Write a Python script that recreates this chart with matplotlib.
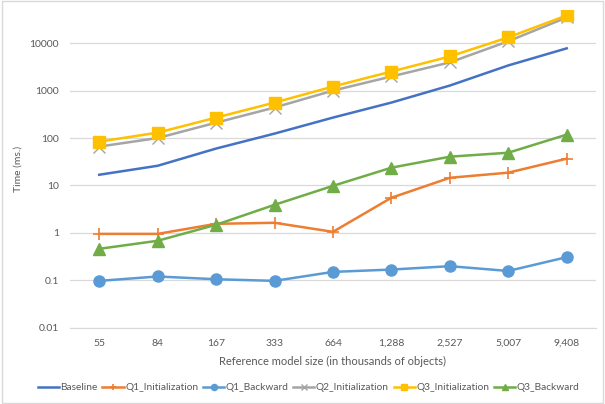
import matplotlib.pyplot as plt
import numpy as np

sizes = ["55", "84", "167", "333", "664", "1,288", "2,527", "5,007", "9,408"]
baseline = [16.8, 26, 60, 124, 270, 560, 1280, 3400, 7800]
q1_init = [0.95, 0.95, 1.55, 1.63, 1.05, 5.5, 14.5, 18.6, 36.7]
q1_back = [0.097, 0.12, 0.105, 0.097, 0.15, 0.168, 0.198, 0.157, 0.307]
q2_init = [66, 100, 211, 440, 1000, 1990, 3940, 11000, 35000]
q3_init = [84, 130, 270, 560, 1220, 2530, 5260, 13300, 38600]
q3_back = [0.46, 0.68, 1.48, 3.9, 9.8, 23.7, 40.4, 49, 118]

plt.rcParams['font.family'] = ['Lato', 'DejaVu Sans']
txt = '#595959'

fig = plt.figure(figsize=(6.05, 4.04), dpi=100)
ax = fig.add_axes([0.1157, 0.189, 0.985 - 0.1157, 0.975 - 0.189])
x = np.arange(len(sizes))

ax.plot(x, baseline, color='#4472C4', lw=1.8, label='Baseline')
ax.plot(x, q1_init, color='#ED7D31', lw=1.8, marker='+', ms=9, mew=1.2, label='Q1_Initialization')
ax.plot(x, q1_back, color='#5B9BD5', lw=1.8, marker='o', ms=8, label='Q1_Backward')
ax.plot(x, q2_init, color='#A5A5A5', lw=1.8, marker='x', ms=8, mew=1.0, label='Q2_Initialization')
ax.plot(x, q3_init, color='#FFC000', lw=1.8, marker='s', ms=8, label='Q3_Initialization')
ax.plot(x, q3_back, color='#70AD47', lw=1.8, marker='^', ms=9, label='Q3_Backward')

ax.set_yscale('log')
ax.set_ylim(0.01, 50000)
ax.set_xlim(-0.5, len(sizes) - 0.5)
ax.set_yticks([0.01, 0.1, 1, 10, 100, 1000, 10000])
ax.set_yticklabels(['0.01', '0.1', '1', '10', '100', '1000', '10000'])
ax.minorticks_off()
ax.set_xticks(x)
ax.set_xticklabels(sizes)
ax.tick_params(length=0, labelsize=7.5, colors=txt, pad=8)
ax.grid(axis='y', color='#D9D9D9', lw=0.9)
ax.set_axisbelow(True)
for s in ['top', 'right', 'left']:
    ax.spines[s].set_visible(False)
ax.spines['bottom'].set_color('#D9D9D9')

ax.set_ylabel('Time (ms.)', fontsize=7.5, color=txt, labelpad=5)
ax.set_xlabel('Reference model size (in thousands of objects)', fontsize=8, color=txt, labelpad=6)

fig.legend(loc='center', bbox_to_anchor=(0.51, 0.04), ncol=6, frameon=False,
           fontsize=7.3, labelcolor=txt, handlelength=2.1, columnspacing=0.45,
           handletextpad=0.15, markerscale=0.55)

fig.patches.append(plt.Rectangle((0.003, 0.003), 0.994, 0.994, transform=fig.transFigure,
                                 fill=False, ec='#D9D9D9', lw=1))
fig.savefig('out.png', dpi=100)
